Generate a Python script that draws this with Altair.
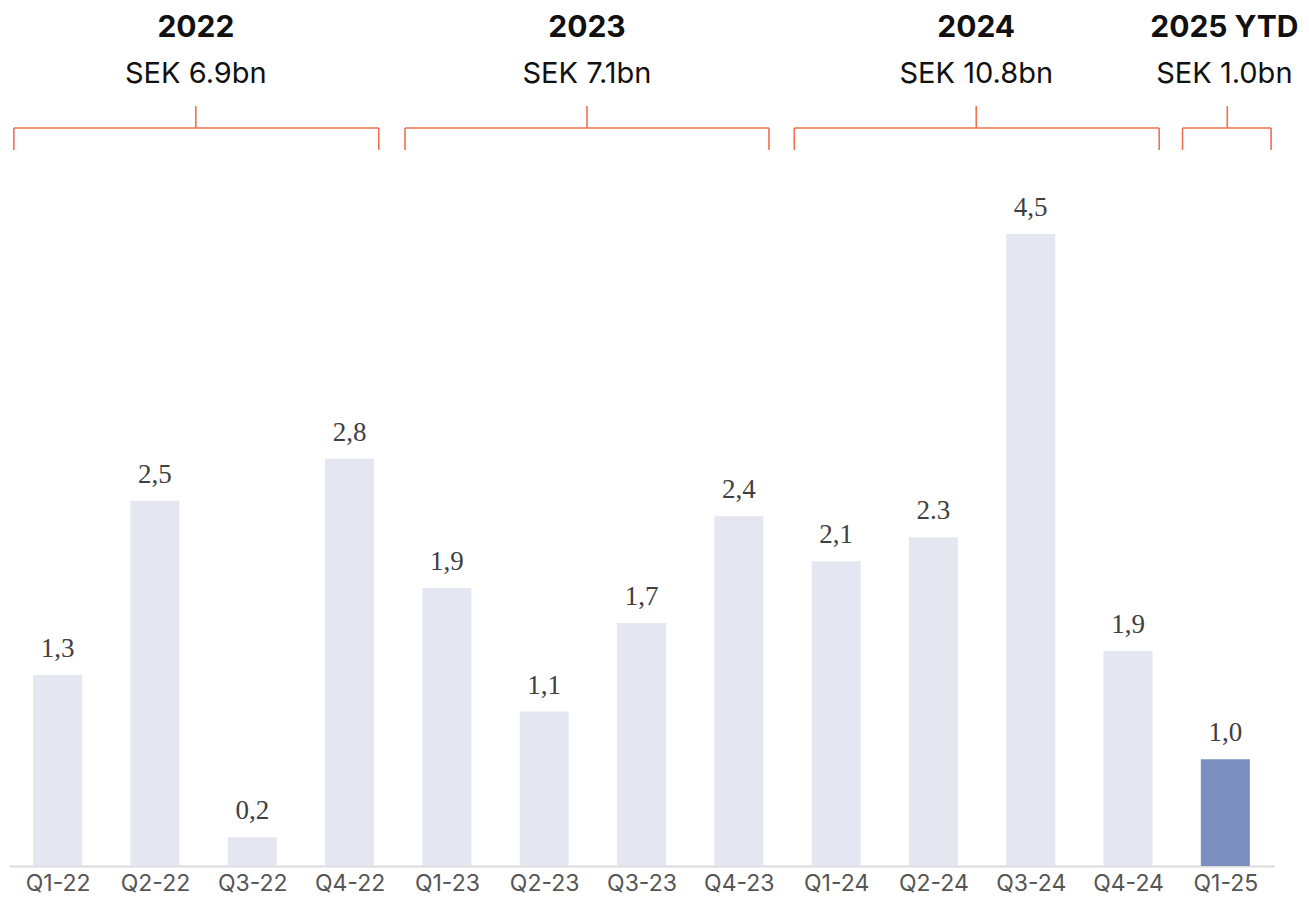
import altair as alt
import pandas as pd

quarters = ["Q1-22", "Q2-22", "Q3-22", "Q4-22", "Q1-23", "Q2-23", "Q3-23",
            "Q4-23", "Q1-24", "Q2-24", "Q3-24", "Q4-24", "Q1-25"]
heights = [1.36, 2.60, 0.205, 2.90, 1.98, 1.10, 1.73, 2.49, 2.17, 2.34, 4.50, 1.53, 0.76]
labels = ["1,3", "2,5", "0,2", "2,8", "1,9", "1,1", "1,7", "2,4", "2,1", "2.3", "4,5", "1,9", "1,0"]
highlight = [False] * 12 + [True]

years = ["2022", "2023", "2024", "2025 YTD"]
totals = ["SEK 6.9bn", "SEK 7.1bn", "SEK 10.8bn", "SEK 1.0bn"]
title_x = [1.42, 5.44, 9.44, 11.99]
bracket_start = [-0.45, 3.57, 7.57, 11.56]
bracket_end = [3.30, 7.31, 11.32, 12.47]
bracket_mid = [1.42, 5.44, 9.44, 12.02]

bars_df = pd.DataFrame({"i": list(range(len(quarters))), "q": quarters,
                        "h": heights, "lab": labels, "hl": highlight})
yr_df = pd.DataFrame({"year": years, "total": totals, "t": title_x, "s": bracket_start,
                      "e": bracket_end, "m": bracket_mid})

label_expr = "[" + ",".join(f"'{q}'" for q in quarters) + "][datum.value]"

x_scale = alt.Scale(domain=[-0.5, 12.5], nice=False, zero=False, padding=0)
y_scale = alt.Scale(domain=[0, 6.109], nice=False, padding=0)

x_enc = alt.X("i:Q", scale=x_scale,
              axis=alt.Axis(values=list(range(13)), labelExpr=label_expr, title=None,
                            grid=False, ticks=False, domainColor="#dcdcdc", domainWidth=2,
                            labelFontSize=23, labelColor="#555555", labelFont="Inter",
                            labelPadding=6, labelFlush=False))

bars = alt.Chart(bars_df).mark_bar(size=49).encode(
    x=x_enc,
    y=alt.Y("h:Q", scale=y_scale, axis=None),
    color=alt.Color("hl:N", scale=alt.Scale(domain=[False, True],
                                            range=["#e4e6f2", "#7b8fc0"]), legend=None),
)

bar_text = alt.Chart(bars_df).mark_text(
    font="Liberation Serif", fontSize=27, color="#404040", baseline="alphabetic", dy=-18
).encode(x=alt.X("i:Q", scale=x_scale), y=alt.Y("h:Q", scale=y_scale), text="lab:N")

orange = "#f0704f"
hline = alt.Chart(yr_df).mark_rule(color=orange, strokeWidth=1.6).encode(
    x=alt.X("s:Q", scale=x_scale), x2="e:Q", y=alt.value(120))
lend = alt.Chart(yr_df).mark_rule(color=orange, strokeWidth=1.6).encode(
    x=alt.X("s:Q", scale=x_scale), y=alt.value(120), y2=alt.value(142))
rend = alt.Chart(yr_df).mark_rule(color=orange, strokeWidth=1.6).encode(
    x=alt.X("e:Q", scale=x_scale), y=alt.value(120), y2=alt.value(142))
mtick = alt.Chart(yr_df).mark_rule(color=orange, strokeWidth=1.6).encode(
    x=alt.X("m:Q", scale=x_scale), y=alt.value(98), y2=alt.value(120))

year_text = alt.Chart(yr_df).mark_text(
    font="Inter", fontSize=30, fontWeight="bold", color="#111111", baseline="middle"
).encode(x=alt.X("t:Q", scale=x_scale), y=alt.value(20), text="year:N")
total_text = alt.Chart(yr_df).mark_text(
    font="Inter", fontSize=29, color="#111111", baseline="middle"
).encode(x=alt.X("t:Q", scale=x_scale), y=alt.value(66), text="total:N")

chart = alt.layer(bars, bar_text, hline, lend, rend, mtick, year_text, total_text).properties(
    width=1265, height=858,
    autosize=alt.AutoSizeParams(type="none"),
    padding={"left": 1, "top": 0, "right": 26, "bottom": 30},
).configure(background="white").configure_view(stroke=None)

chart.save("out.html", embed_options={"renderer": "svg", "actions": False})
